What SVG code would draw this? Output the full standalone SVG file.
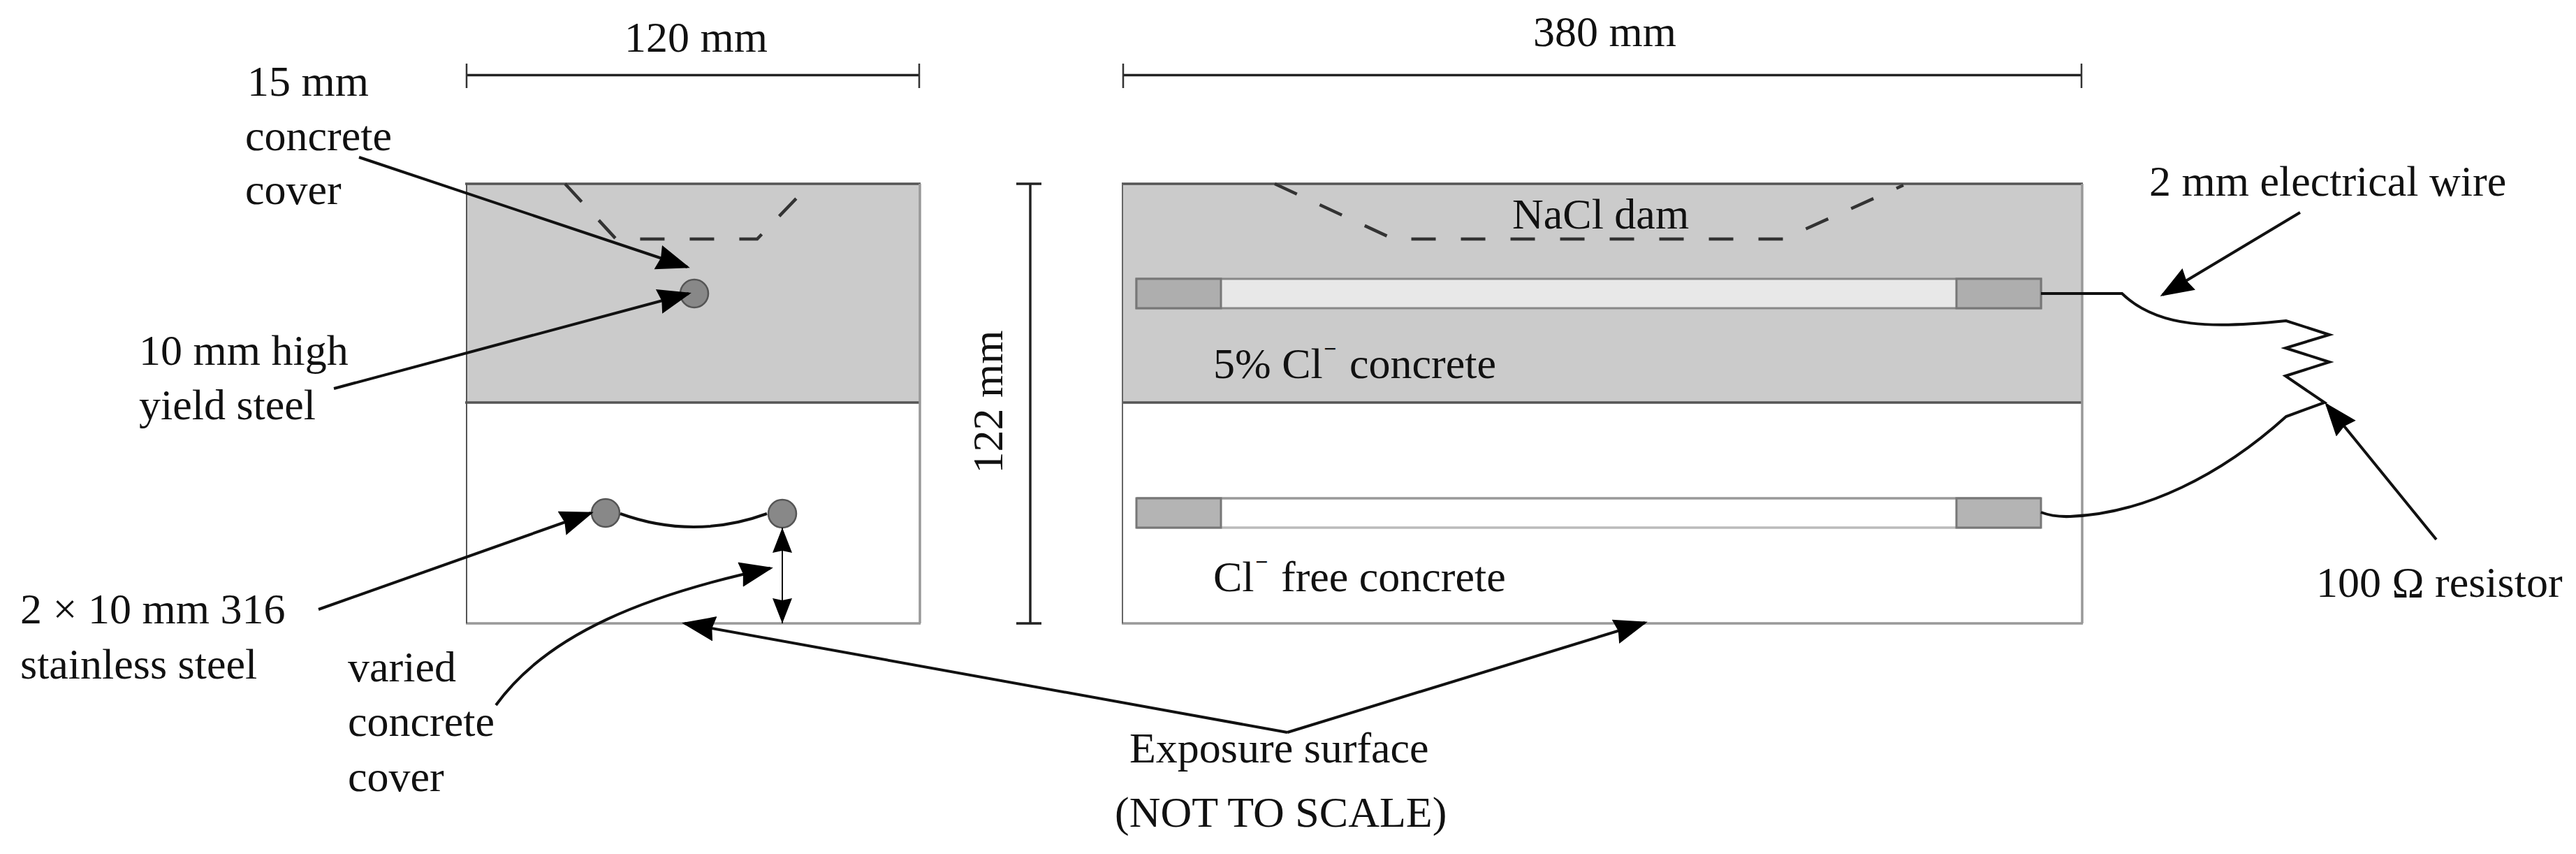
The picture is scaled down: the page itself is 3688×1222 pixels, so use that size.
<svg xmlns="http://www.w3.org/2000/svg" width="3688" height="1222" viewBox="0 0 3688 1222">
<defs>
<style>
text{font-family:"Liberation Serif","Times New Roman",serif;font-size:62px;fill:#111}
.sup{font-size:32px;font-weight:bold}
.ln{fill:none;stroke:#111;stroke-width:4}
.dash{fill:none;stroke:#333;stroke-width:4.500;stroke-dasharray:35 36}
.arr{fill:none;stroke:#111;stroke-width:4;marker-end:url(#head)}
.dim{fill:none;stroke:#222;stroke-width:3.5}
.tick{fill:none;stroke:#333;stroke-width:2.5}
.rod{fill:#888;stroke:#555;stroke-width:2.5}
.cap{stroke:#777;stroke-width:3}
.edge{fill:none;stroke:#555;stroke-width:3.5}
.edge2{fill:none;stroke:#999;stroke-width:3.5}
</style>
<marker id="head" markerUnits="userSpaceOnUse" markerWidth="52" markerHeight="40" refX="44" refY="18" orient="auto"><path d="M0,0L48,18L0,36L4,18z" fill="#000"/></marker>
<marker id="small" markerUnits="userSpaceOnUse" markerWidth="40" markerHeight="30" refX="36" refY="14" orient="auto-start-reverse"><path d="M0,0L36,14L0,28L3,14z" fill="#000"/></marker>
</defs>
<rect width="3688" height="1222" fill="#fff"/>

<g id="dim-120"><path class="dim" d="M668,107.500H1316"/><path class="tick" d="M668,91V126M1316,91V126"/><text x="894" y="74">120 mm</text></g>
<g id="dim-380"><path class="dim" d="M1608,107.500H2980"/><path class="tick" d="M1608,91V126M2980,91V126"/><text x="2195" y="66">380 mm</text></g>
<g id="dim-122"><path class="dim" d="M1475,263V892"/><path class="dim" d="M1455,263H1491M1455,892H1491"/><text transform="translate(1435,575) rotate(-90)" text-anchor="middle">122 mm</text></g>

<g id="section-left">
<rect x="668" y="263" width="649" height="313" fill="#cbcbcb"/>
<path class="edge" d="M666,263H1318M666,576H1318"/>
<path class="edge2" d="M1317,263V892M667,892H1318"/>
<path d="M668,263V892" fill="none" stroke="#555" stroke-width="2"/>
<path class="dash" d="M809,263L882,342H1084L1140,284"/>
</g>
<g id="section-right">
<rect x="1607" y="263" width="1374" height="313" fill="#cbcbcb"/>
<path class="edge" d="M1606,263H2982M1606,576H2982"/>
<path class="edge2" d="M2981,263V892M1606,892H2982"/>
<path d="M1607,263V892" fill="none" stroke="#666" stroke-width="2"/>
<path class="dash" d="M1825,263L1995,342H2553L2725,265"/>
<text x="2165" y="327">NaCl dam</text>
<text x="1737" y="541">5% Cl<tspan class="sup" x="1895" y="510">− </tspan><tspan x="1932" y="541">concrete</tspan></text>
<text x="1737" y="846">Cl<tspan class="sup" x="1797" y="815">− </tspan><tspan x="1834" y="846">free concrete</tspan></text>
</g>

<g id="bar-chloride">
<rect x="1627" y="399" width="1295" height="42" fill="#e8e8e8" stroke="#888" stroke-width="3"/>
<rect class="cap" x="1627" y="399" width="121" height="42" fill="#aeaeae"/>
<rect class="cap" x="2801" y="399" width="121" height="42" fill="#aeaeae"/>
</g>
<g id="bar-free">
<path d="M1627,713H2922" stroke="#999" stroke-width="3.5" fill="none"/>
<path d="M1627,755H2922" stroke="#bbb" stroke-width="3.5" fill="none"/>
<rect class="cap" x="1627" y="713" width="121" height="42" fill="#b4b4b4"/>
<rect class="cap" x="2801" y="713" width="121" height="42" fill="#b4b4b4"/>
</g>

<g id="rod-top"><circle class="rod" cx="994" cy="420" r="20"/></g>
<g id="rod-bottom-left"><circle class="rod" cx="867" cy="734" r="20"/></g>
<g id="rod-bottom-right"><circle class="rod" cx="1120" cy="735" r="20"/></g>

<g id="connectors">
<path class="ln" d="M888,735Q993,773 1098,735"/>
<path class="arr" d="M514,225L984,382"/>
<path class="arr" d="M478,556L986,420"/>
<path class="arr" d="M456,872L846,734"/>
<path d="M1120,755V892" fill="none" stroke="#111" stroke-width="2" marker-start="url(#small)" marker-end="url(#small)"/>
<path class="arr" d="M710,1009C785,905 930,850 1103,813"/>
<path class="arr" d="M1843,1048L980,892"/>
<path class="arr" d="M1843,1048L2355,891"/>
<path class="ln" d="M2922,420H3038C3090,470 3170,470 3273,459L3335,479L3272,498L3335,518L3272,538L3328,576L3273,596C3180,680 3070,735 2964,739Q2940,740 2922,733"/>
<path class="arr" d="M3293,304L3096,422"/>
<path class="arr" d="M3488,772L3331,579"/>
</g>

<g id="labels">
<text x="354" y="137">15 mm</text>
<text x="351" y="215">concrete</text>
<text x="351" y="292">cover</text>
<text x="199" y="522">10 mm high</text>
<text x="199" y="600">yield steel</text>
<text x="29" y="892">2 × 10 mm 316</text>
<text x="29" y="971">stainless steel</text>
<text x="498" y="975">varied</text>
<text x="498" y="1053">concrete</text>
<text x="498" y="1132">cover</text>
<text x="1617" y="1091">Exposure surface</text>
<text x="1596" y="1183">(NOT TO SCALE)</text>
<text x="3077" y="280">2 mm electrical wire</text>
<text x="3316" y="854">100 Ω resistor</text>
</g>
</svg>
